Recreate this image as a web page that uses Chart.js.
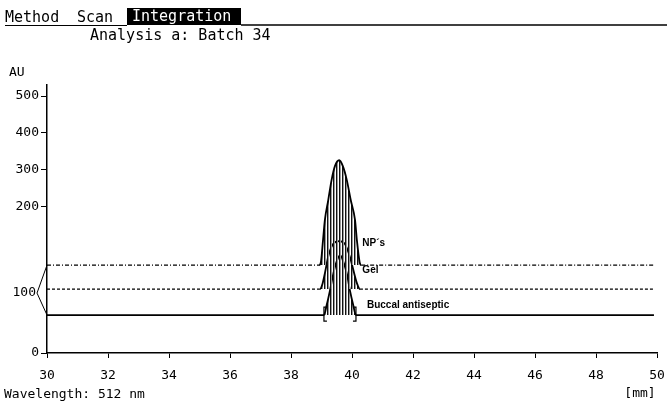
<!DOCTYPE html>
<html>
<head>
<meta charset="utf-8">
<script src="https://cdn.jsdelivr.net/npm/chart.js@4/dist/chart.umd.min.js"></script>
<style>
  html, body { margin: 0; padding: 0; background: #fff; }
  canvas { display: block; }
</style>
</head>
<body>
<canvas id="scan" width="667" height="402"></canvas>
<script>
// 数据：横坐标 mm，纵坐标 AU
const seriesNames = ['NP´s', 'Gel', 'Buccal antiseptic'];

const npX = [30, 38.92, 38.98, 39.05, 39.11, 39.22, 39.33, 39.44, 39.58, 39.70, 39.83, 39.96, 40.10, 40.16, 40.25, 40.30, 49.9];
const npY = [119.7, 119.7, 123.8, 153.7, 181, 216, 271, 309, 325, 309, 271, 216, 181, 153.7, 123.8, 119.7, 119.7];

const gelX = [30, 38.95, 39.02, 39.11, 39.22, 39.38, 39.58, 39.77, 39.93, 40.10, 40.16, 40.26, 49.9];
const gelY = [87.1, 87.1, 92.5, 108.4, 131, 148.3, 152.4, 148.3, 131, 103.8, 95.2, 87.1, 87.1];

const buccalX = [30, 39.08, 39.17, 39.28, 39.39, 39.49, 39.61, 39.72, 39.83, 39.93, 40.04, 40.13, 49.9];
const buccalY = [51.7, 51.7, 65.3, 85.7, 108.4, 123.8, 133.3, 123.8, 108.4, 85.7, 65.3, 51.7, 51.7];

const yTicks = [0, 200, 300, 400, 500];
const baselineLabel = '100';

const MONO = '"DejaVu Sans Mono", "Liberation Mono", monospace';

// 纵轴 200 以上压缩一半
const toU = v => (v <= 200 ? v : 200 + (v - 200) / 2);
const fromU = u => (u <= 200 ? u : 200 + (u - 200) * 2);

class SplitScale extends Chart.LinearScale {
  static id = 'split';
  configure() {
    super.configure();
    this._startValue = toU(this.min);
    this._valueRange = toU(this.max) - toU(this.min);
  }
  getPixelForValue(v) {
    if (v === null) return NaN;
    return this.getPixelForDecimal((toU(v) - this._startValue) / this._valueRange);
  }
  getValueForPixel(p) {
    return fromU(this._startValue + this.getDecimalForPixel(p) * this._valueRange);
  }
}
Chart.register(SplitScale);

// 竖线填充图案
function hatch() {
  const c = document.createElement('canvas');
  c.width = 3; c.height = 4;
  const g = c.getContext('2d');
  g.fillStyle = '#111'; g.fillRect(0, 0, 1, 4);
  g.fillStyle = '#999'; g.fillRect(1, 0, 1, 4);
  return g.createPattern(c, 'repeat');
}

function points(xs, ys) {
  return xs.map((x, i) => ({ x: x, y: ys[i] }));
}

function trace(label, xs, ys, dash, width) {
  const base = ys[0];
  return {
    label: label,
    data: points(xs, ys),
    borderColor: '#000',
    borderWidth: width,
    pointRadius: 0,
    cubicInterpolationMode: 'monotone',
    fill: { value: base },
    backgroundColor: hatch(),
    segment: {
      borderDash: ctx => (ctx.p0.parsed.y === base && ctx.p1.parsed.y === base ? dash : []),
      borderWidth: ctx => (ctx.p0.parsed.y === base && ctx.p1.parsed.y === base ? width : 1.8)
    }
  };
}

// 额外文字与标记
const decorations = {
  id: 'decorations',
  beforeDraw(chart) {
    const ctx = chart.ctx;
    ctx.save();
    ctx.fillStyle = '#fff';
    ctx.fillRect(0, 0, chart.width, chart.height);
    ctx.restore();
  },
  afterDraw(chart) {
    const ctx = chart.ctx;
    const x = chart.scales.x, y = chart.scales.y;
    ctx.save();
    ctx.fillStyle = '#000';
    ctx.strokeStyle = '#000';

    // 顶部菜单
    ctx.font = '15px ' + MONO;
    ctx.textBaseline = 'alphabetic';
    ctx.textAlign = 'left';
    ctx.fillText('Method', 5, 22);
    ctx.fillText('Scan', 77, 22);
    ctx.fillRect(127, 8, 114, 17);
    ctx.fillStyle = '#fff';
    ctx.fillText('Integration', 132, 21);
    ctx.fillStyle = '#000';
    ctx.lineWidth = 1;
    ctx.beginPath();
    ctx.moveTo(5, 25.5); ctx.lineTo(127, 25.5);
    ctx.stroke();
    ctx.lineWidth = 1.5;
    ctx.beginPath();
    ctx.moveTo(241, 25); ctx.lineTo(667, 25);
    ctx.stroke();
    ctx.fillText('Analysis a: Batch 34', 90, 40);

    // 轴标题
    ctx.font = '13px ' + MONO;
    ctx.textBaseline = 'middle';
    ctx.fillText('AU', 9, 73);
    ctx.fillText('Wavelength: 512 nm', 4, 395);
    ctx.textAlign = 'center';
    ctx.fillText('[mm]', 640, 394);

    // 基线括号 100
    const top = y.getPixelForValue(npY[0]);
    const bot = y.getPixelForValue(buccalY[0]);
    const mid = (top + bot) / 2 + 3;
    ctx.lineWidth = 1;
    ctx.beginPath();
    ctx.moveTo(x.left, top);
    ctx.lineTo(x.left - 10, mid);
    ctx.lineTo(x.left, bot);
    ctx.stroke();
    ctx.textAlign = 'right';
    ctx.fillText(baselineLabel, x.left - 11, mid);

    // 曲线名称
    ctx.font = 'bold 10px "Liberation Sans", Arial, sans-serif';
    ctx.textAlign = 'left';
    ctx.fillText(seriesNames[0], x.getPixelForValue(40.34), y.getPixelForValue(150));
    ctx.fillText(seriesNames[1], x.getPixelForValue(40.34), y.getPixelForValue(113));
    ctx.fillText(seriesNames[2], x.getPixelForValue(40.49), y.getPixelForValue(65));

    // 积分边界
    ctx.lineWidth = 1.2;
    const yb = y.getPixelForValue(buccalY[0]);
    [[buccalX[1], 1], [buccalX[buccalX.length - 2], -1]].forEach(([v, d]) => {
      const px = x.getPixelForValue(v);
      ctx.beginPath();
      ctx.moveTo(px + 3 * d, yb - 8);
      ctx.lineTo(px, yb - 8);
      ctx.lineTo(px, yb + 6);
      ctx.lineTo(px + 3 * d, yb + 6);
      ctx.stroke();
    });
    ctx.restore();
  }
};

new Chart(document.getElementById('scan'), {
  type: 'line',
  data: {
    datasets: [
      trace(seriesNames[0], npX, npY, [4, 2, 1, 2], 1.3),
      trace(seriesNames[1], gelX, gelY, [3, 2], 1.3),
      trace(seriesNames[2], buccalX, buccalY, [], 1.8)
    ]
  },
  options: {
    responsive: false,
    devicePixelRatio: 1,
    animation: false,
    layout: { padding: { top: 85, right: 10, left: 0, bottom: 0 } },
    plugins: {
      legend: { display: false },
      tooltip: { enabled: false }
    },
    scales: {
      x: {
        type: 'linear',
        min: 30,
        max: 50,
        ticks: {
          stepSize: 2,
          autoSkip: false,
          maxRotation: 0,
          color: '#000',
          font: { family: MONO, size: 13 },
          padding: 10
        },
        grid: { drawOnChartArea: false, tickLength: 5, color: '#000', tickWidth: 1 },
        border: { color: '#000', width: 1.5 },
        afterFit: s => { s.height = 49; s.paddingRight = 0; s.paddingLeft = 0; }
      },
      y: {
        type: 'split',
        min: 0,
        max: 530,
        afterBuildTicks: s => { s.ticks = yTicks.map(v => ({ value: v })); },
        ticks: {
          color: '#000',
          font: { family: MONO, size: 13 },
          padding: 2
        },
        grid: { drawOnChartArea: false, tickLength: 6, color: '#000', tickWidth: 1 },
        border: { color: '#000', width: 1.5 },
        afterFit: s => { s.width = 47; }
      }
    }
  },
  plugins: [decorations]
});
</script>
</body>
</html>
